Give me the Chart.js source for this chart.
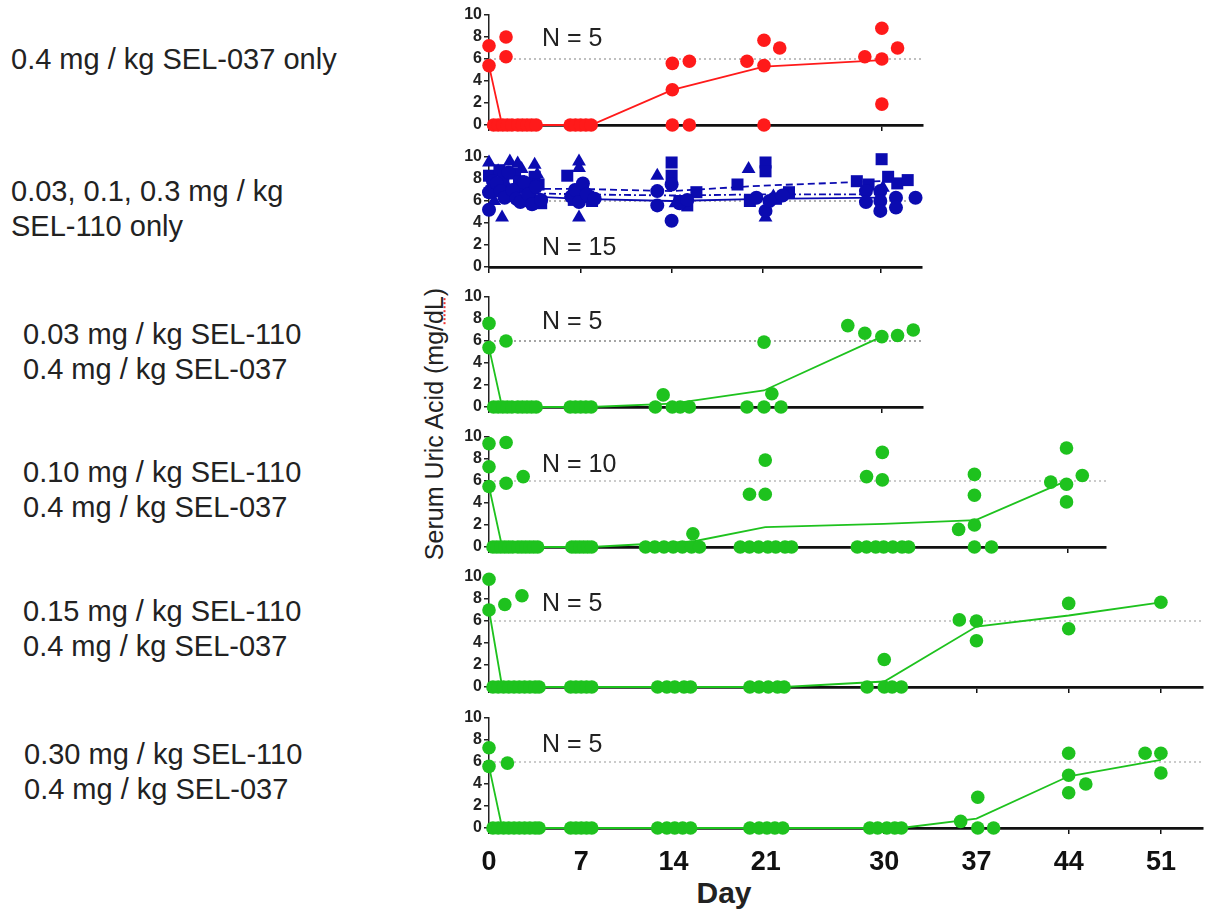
<!DOCTYPE html>
<html>
<head>
<meta charset="utf-8">
<script src="https://cdn.jsdelivr.net/npm/chart.js@4.4.0/dist/chart.umd.min.js"></script>
<style>
  body { margin: 0; width: 1210px; height: 909px; overflow: hidden; background: #fff; position: relative;
         font-family: 'Liberation Sans', Arial, sans-serif; color: #222; }
  canvas { position: absolute; }
  .grp { position: absolute; font-size: 29px; line-height: 35px; white-space: nowrap; }
  .n { position: absolute; font-size: 25px; line-height: 25px; white-space: nowrap; }
  #ytitle { position: absolute; left: 434px; top: 424px; font-size: 25px; white-space: nowrap;
            transform: translate(-50%, -50%) rotate(-90deg); }
  #ytitle span { text-decoration: underline dotted #e33; text-decoration-thickness: 2px; }
  #day { position: absolute; left: 724px; top: 893px; transform: translate(-50%, -50%);
         font: bold 30px 'Liberation Sans Narrow', 'Arial Narrow', 'Liberation Sans', sans-serif; }
</style>
</head>
<body>
<div class="grp" style="left:11px; top:42px">0.4 mg / kg SEL-037 only</div>
<div class="grp" style="left:11px; top:174px">0.03, 0.1, 0.3 mg / kg<br>SEL-110 only</div>
<div class="grp" style="left:23px; top:317px">0.03 mg / kg SEL-110<br>0.4 mg / kg SEL-037</div>
<div class="grp" style="left:23px; top:455px">0.10 mg / kg SEL-110<br>0.4 mg / kg SEL-037</div>
<div class="grp" style="left:23px; top:594px">0.15 mg / kg SEL-110<br>0.4 mg / kg SEL-037</div>
<div class="grp" style="left:24px; top:737px">0.30 mg / kg SEL-110<br>0.4 mg / kg SEL-037</div>

<div id="ytitle">Serum Uric Acid (mg/<span>dL</span>)</div>
<div id="day">Day</div>

<canvas id="c1"></canvas>
<canvas id="c2"></canvas>
<canvas id="c3"></canvas>
<canvas id="c4"></canvas>
<canvas id="c5"></canvas>
<canvas id="c6"></canvas>

<div class="n" style="left:542px; top:25px">N = 5</div>
<div class="n" style="left:542px; top:234px">N = 15</div>
<div class="n" style="left:542px; top:308px">N = 5</div>
<div class="n" style="left:542px; top:451px">N = 10</div>
<div class="n" style="left:542px; top:590px">N = 5</div>
<div class="n" style="left:542px; top:731px">N = 5</div>

<script>
    // axis ticks and the 6 mg/dL reference level
    const xTicks = [0, 7, 14, 21, 30, 37, 44, 51];
    const yTicks = [0, 2, 4, 6, 8, 10];
    const refLevel = 6;

    // 0.4 mg/kg SEL-037 only (red)
    const redDays = [0, 0, 1.3, 1.3, 0.35, 0.7, 1.05, 1.4, 1.75, 2.2, 2.55, 2.9, 3.25, 3.6, 6.2, 6.6, 7.0, 7.4, 7.8,
        14, 14, 14, 15.3, 15.3, 19.7, 21, 21, 21, 22.2, 28.7, 30, 30, 30, 31.2];
    const redValues = [7.2, 5.4, 8.0, 6.2, 0, 0, 0, 0, 0, 0, 0, 0, 0, 0, 0, 0, 0, 0, 0,
        5.6, 3.2, 0, 5.8, 0, 5.8, 7.7, 5.4, 0, 7.0, 6.2, 8.8, 6.0, 1.9, 7.0];
    const redMeanDays = [0, 1, 7.8, 14, 21, 30];
    const redMean = [5.4, 0, 0, 3.2, 5.3, 5.9];

    // SEL-110 only (blue): circles, squares, triangles
    const blueCircleDays = [0, 0, 0.3, 0.6, 0.9, 1.2, 1.5, 1.8, 2.1, 2.4, 2.7, 3, 3.3, 3.6, 4,
        6.3, 6.6, 6.9, 7.2, 7.5, 8.1,
        12.9, 12.9, 14, 14, 14.6, 15.2, 20.5, 21.2, 21.5, 22.5, 28.9, 28.9, 30, 30, 30, 31.2, 31.2, 32.7];
    const blueCircleValues = [5.2, 6.8, 7.8, 7.6, 6.9, 6.3, 8.6, 7.0, 6.2, 5.9, 7.7, 6.6, 5.7, 7.3, 6.1,
        6.4, 7.0, 5.9, 7.6, 6.6, 6.2,
        6.9, 5.6, 7.5, 4.2, 5.8, 6.1, 6.3, 5.1, 6.0, 6.5, 6.9, 5.9, 6.9, 6.0, 5.1, 6.3, 5.4, 6.3];
    const blueSquareDays = [0, 0.2, 0.5, 0.8, 1.1, 1.4, 1.7, 2.0, 2.3, 2.6, 2.9, 3.2, 3.5, 3.8, 4,
        6.0, 6.5, 7.2, 7.6, 7.9,
        14, 14, 14.6, 15.2, 15.9, 19.05, 20, 21.2, 21.2, 22, 23, 28.2, 29.1, 30.1, 30.6, 31.3, 32.1];
    const blueSquareValues = [8.3, 6.9, 7.2, 8.8, 8.0, 7.0, 6.5, 8.5, 7.8, 7.3, 6.0, 6.6, 8.2, 7.5, 5.8,
        8.3, 6.1, 6.8, 6.4, 6.0,
        9.5, 8.3, 6.0, 5.6, 6.8, 7.5, 6.0, 9.5, 8.7, 6.2, 6.8, 7.8, 7.5, 9.8, 8.2, 7.6, 7.9];
    const blueTriangleDays = [0, 0.4, 0.7, 1.0, 1.3, 1.6, 1.9, 2.2, 2.5, 2.8, 3.1, 3.5, 3.7,
        6.9, 6.9, 6.9, 7.4, 12.9, 14.3, 19.9, 21.2, 21.8, 30.2];
    const blueTriangleValues = [9.5, 6.0, 8.7, 4.5, 7.5, 9.6, 6.3, 9.4, 8.9, 7.4, 6.8, 9.3, 8.4,
        9.6, 9.0, 4.5, 6.2, 8.3, 5.8, 8.9, 4.5, 6.4, 7.2];
    const blueMeanDays = [0, 7, 14, 21, 30];
    const blueMeanSolid = [6.6, 6.2, 6.0, 6.2, 6.3];
    const blueMeanDashed = [7.1, 7.1, 6.9, 7.4, 7.8];
    const blueMeanDashDot = [6.8, 6.6, 6.5, 6.6, 6.6];

    // 0.03 mg/kg SEL-110 + SEL-037
    const g03Days = [0, 0, 1.3, 0.35, 0.7, 1.05, 1.4, 1.75, 2.2, 2.55, 2.9, 3.25, 3.6, 6.2, 6.6, 7.0, 7.4, 7.8,
        12.7, 13.3, 14, 14.6, 15.3, 19.7, 21, 21, 21.6, 22.3, 27.4, 28.7, 30, 31.2, 32.4];
    const g03Values = [7.6, 5.4, 6.0, 0, 0, 0, 0, 0, 0, 0, 0, 0, 0, 0, 0, 0, 0, 0,
        0, 1.1, 0, 0, 0, 0, 5.9, 0, 1.2, 0, 7.4, 6.7, 6.4, 6.5, 7.0];
    const g03MeanDays = [0, 1, 7.8, 14, 21, 30];
    const g03Mean = [5.4, 0, 0, 0.3, 1.5, 6.4];

    // 0.10 mg/kg SEL-110 + SEL-037
    const g10Days = [0, 0, 0, 1.3, 1.3, 2.6, 0.3, 0.6, 0.9, 1.2, 1.5, 1.8, 2.2, 2.5, 2.8, 3.1, 3.4, 3.7,
        6.3, 6.6, 6.9, 7.2, 7.5, 7.8, 11.9, 12.6, 13.3, 14.0, 14.7, 15.4, 16.0, 15.5,
        19.8, 21, 21, 19.1, 19.8, 20.5, 21.2, 21.8, 22.5, 23.0,
        28.7, 29.9, 29.9, 28.0, 28.7, 29.4, 30.0, 30.7, 31.4, 31.9,
        35.7, 36.9, 36.9, 36.9, 36.9, 38.2, 42.7, 43.9, 43.9, 43.9, 45.1];
    const g10Values = [9.4, 7.3, 5.5, 9.5, 5.8, 6.4, 0, 0, 0, 0, 0, 0, 0, 0, 0, 0, 0, 0,
        0, 0, 0, 0, 0, 0, 0, 0, 0, 0, 0, 0, 0, 1.2,
        4.8, 7.9, 4.8, 0, 0, 0, 0, 0, 0, 0,
        6.4, 8.6, 6.1, 0, 0, 0, 0, 0, 0, 0,
        1.6, 6.6, 4.7, 2.0, 0, 0, 5.9, 9.0, 5.7, 4.1, 6.5];
    const g10MeanDays = [0, 1, 7.8, 15.5, 21, 30, 37, 43.5];
    const g10Mean = [5.5, 0, 0, 0.5, 1.8, 2.1, 2.45, 5.8];

    // 0.15 mg/kg SEL-110 + SEL-037
    const g15Days = [0, 0, 1.2, 2.5, 0.3, 0.7, 1.1, 1.5, 1.9, 2.3, 2.7, 3.1, 3.5, 3.8, 6.2, 6.6, 7.0, 7.4, 7.8,
        12.8, 13.5, 14.1, 14.8, 15.3, 19.8, 20.5, 21.2, 21.9, 22.4, 28.7, 30.0, 30.0, 30.6, 31.3,
        35.7, 37.0, 37.0, 44, 44, 51];
    const g15Values = [9.8, 7.0, 7.5, 8.3, 0, 0, 0, 0, 0, 0, 0, 0, 0, 0, 0, 0, 0, 0, 0,
        0, 0, 0, 0, 0, 0, 0, 0, 0, 0, 0, 2.5, 0, 0, 0,
        6.1, 6.0, 4.2, 7.6, 5.3, 7.7];
    const g15MeanDays = [0, 1, 22.4, 30, 37, 44, 51];
    const g15Mean = [7.0, 0, 0, 0.5, 5.5, 6.5, 7.7];

    // 0.30 mg/kg SEL-110 + SEL-037
    const g30Days = [0, 0, 1.4, 0.3, 0.7, 1.1, 1.5, 1.9, 2.3, 2.7, 3.1, 3.5, 3.8, 6.2, 6.6, 7.0, 7.4, 7.8,
        12.8, 13.5, 14.1, 14.7, 15.3, 19.8, 20.5, 21.1, 21.7, 22.3, 28.9, 29.5, 30.2, 30.8, 31.3,
        35.8, 37.1, 37.1, 38.3, 44, 44, 44, 45.3, 49.8, 51, 51];
    const g30Values = [7.3, 5.6, 5.9, 0, 0, 0, 0, 0, 0, 0, 0, 0, 0, 0, 0, 0, 0, 0,
        0, 0, 0, 0, 0, 0, 0, 0, 0, 0, 0, 0, 0, 0, 0,
        0.6, 2.8, 0, 0, 6.8, 4.8, 3.2, 4.0, 6.8, 6.8, 5.0];
    const g30MeanDays = [0, 1, 31.3, 37, 44, 51];
    const g30Mean = [5.6, 0, 0, 0.85, 4.7, 6.2];

    // colours and layout
    const RED = '#ff1a1a', BLUE = '#0b0bb0', GREEN = '#1ec21e';
    const AXIS_X = 489, Y_W = 50, PAD_T = 12, PLOT_H = 110, PX_PER_DAY = 13.3;
    const narrow = "'Liberation Sans Narrow', 'Arial Narrow', 'Liberation Sans', sans-serif";

    Chart.defaults.font.family = "'Liberation Sans', Arial, sans-serif";
    Chart.defaults.color = '#222';

    function pts(days, vals) {
        return days.map((d, i) => ({ x: d, y: vals[i] }));
    }
    function dots(days, vals, color, style, r) {
        return { data: pts(days, vals), pointStyle: style || 'circle', pointRadius: r || 6.8,
            pointBackgroundColor: color, pointBorderWidth: 0, showLine: false, clip: false, order: 1 };
    }
    function meanLine(days, vals, color, dash) {
        return { data: pts(days, vals), showLine: true, borderColor: color, borderWidth: 1.8,
            borderDash: dash || [], pointRadius: 0, clip: false, order: 2 };
    }
    function refLine(xMax, color) {
        return { data: [{ x: 0, y: refLevel }, { x: xMax, y: refLevel }], showLine: true, borderColor: color,
            borderWidth: 1.5, borderDash: [2, 3], pointRadius: 0, order: 3 };
    }

    function makePanel(id, top, right, xh, showLabels, refColor, sets) {
        var el = document.getElementById(id);
        var left = AXIS_X - Y_W;
        el.width = right - left;
        el.height = PAD_T + PLOT_H + xh;
        el.style.left = left + 'px';
        el.style.top = (top - PAD_T) + 'px';
        var xMax = (right - AXIS_X) / PX_PER_DAY;

        new Chart(el, {
            type: 'scatter',
            data: { datasets: [refLine(xMax, refColor)].concat(sets) },
            options: {
                responsive: false,
                animation: false,
                events: [],
                layout: { padding: { top: PAD_T, left: 0, right: 0, bottom: 0 } },
                plugins: { legend: { display: false }, tooltip: { enabled: false } },
                scales: {
                    x: {
                        type: 'linear', min: 0, max: xMax,
                        afterBuildTicks: s => { s.ticks = xTicks.filter(v => v <= s.max).map(v => ({ value: v })); },
                        afterFit: s => { s.height = xh; },
                        border: { display: true, color: '#111', width: 2.8 },
                        grid: { drawOnChartArea: false, drawTicks: true, tickLength: 6, color: '#111', lineWidth: 1.5 },
                        ticks: { display: showLabels, autoSkip: false, maxRotation: 0, color: '#111', padding: 12,
                            font: { family: narrow, size: 27, weight: 'bold' } }
                    },
                    y: {
                        type: 'linear', min: 0, max: 10,
                        afterBuildTicks: s => { s.ticks = yTicks.map(v => ({ value: v })); },
                        afterFit: s => { s.width = Y_W; },
                        border: { display: true, color: '#222', width: 1.5 },
                        grid: { drawOnChartArea: false, drawTicks: true, tickLength: 5, color: '#222', lineWidth: 1.5 },
                        ticks: { autoSkip: false, color: '#222', padding: 2,
                            font: { size: 16, weight: 'bold', lineHeight: 1 } }
                    }
                }
            }
        });
    }

    makePanel('c1', 15, 930, 12, false, '#aaa', [
        dots(redDays, redValues, RED),
        meanLine(redMeanDays, redMean, RED)
    ]);
    makePanel('c2', 157, 930, 12, false, '#999', [
        dots(blueCircleDays, blueCircleValues, BLUE, 'circle', 7),
        dots(blueSquareDays, blueSquareValues, BLUE, 'rect', 8.5),
        dots(blueTriangleDays, blueTriangleValues, BLUE, 'triangle', 8),
        meanLine(blueMeanDays, blueMeanSolid, BLUE),
        meanLine(blueMeanDays, blueMeanDashed, BLUE, [7, 4]),
        meanLine(blueMeanDays, blueMeanDashDot, BLUE, [7, 3, 2, 3])
    ]);
    makePanel('c3', 297, 930, 12, false, '#888', [
        dots(g03Days, g03Values, GREEN),
        meanLine(g03MeanDays, g03Mean, GREEN)
    ]);
    makePanel('c4', 437, 1113, 12, false, '#bbb', [
        dots(g10Days, g10Values, GREEN),
        meanLine(g10MeanDays, g10Mean, GREEN)
    ]);
    makePanel('c5', 577, 1210, 12, false, '#bbb', [
        dots(g15Days, g15Values, GREEN),
        meanLine(g15MeanDays, g15Mean, GREEN)
    ]);
    makePanel('c6', 718, 1210, 80, true, '#bbb', [
        dots(g30Days, g30Values, GREEN),
        meanLine(g30MeanDays, g30Mean, GREEN)
    ]);
</script>
</body>
</html>
